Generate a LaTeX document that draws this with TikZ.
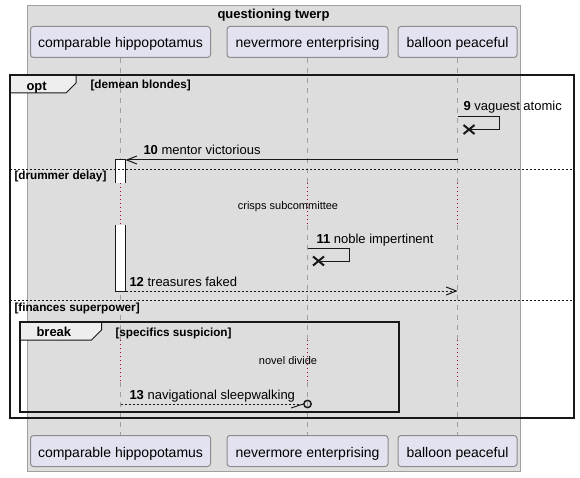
\documentclass[tikz,border=0pt]{standalone}
\usepackage{fontspec}
\setmainfont{Liberation Sans}
\usetikzlibrary{arrows.meta}

\definecolor{groupfill}{RGB}{221,221,221}
\definecolor{groupline}{RGB}{160,160,160}
\definecolor{partfill}{RGB}{226,226,240}
\definecolor{partline}{RGB}{140,140,140}
\definecolor{tabfill}{RGB}{238,238,238}
\definecolor{delayred}{RGB}{168,0,54}
\definecolor{ink}{RGB}{24,24,24}

\tikzset{every picture/.style={line width=0.75pt}}
\tikzset{
	part/.style={draw=partline, fill=partfill, rounded corners=2.25pt, minimum height=23.25pt, inner sep=0pt, text height=9pt, text depth=0pt, font=\fontsize{10.5}{12}\selectfont},
	life/.style={draw=groupline, dash pattern={on 3.75pt off 3.75pt}},
	delayline/.style={draw=delayred, dash pattern={on 0.75pt off 2.25pt}},
	msgline/.style={draw=ink},
	reply/.style={draw=ink, dash pattern={on 1.5pt off 1.5pt}},
	openhead/.style={-{Straight Barb[length=7.5pt,width=6pt]}},
	msglabel/.style={anchor=base west, inner sep=0pt, font=\fontsize{9.75}{11}\selectfont},
	guardlabel/.style={anchor=base west, inner sep=0pt, font=\bfseries\fontsize{8.8}{10}\selectfont},
	delaylabel/.style={anchor=base, inner sep=0pt, font=\fontsize{8.25}{10}\selectfont},
	framekind/.style={anchor=base west, inner sep=0pt, font=\bfseries\fontsize{9.75}{11}\selectfont},
	frameline/.style={draw=ink, line width=1.5pt},
	tabshape/.style={draw=ink, fill=tabfill},
	separator/.style={draw=ink, dash pattern={on 1.5pt off 1.5pt}},
	killmark/.style={draw=ink, line width=1.5pt},
}

\begin{document}
\begin{tikzpicture}[x=0.75pt,y=0.75pt,yscale=-1,xscale=1]
	\useasboundingbox (0,0) rectangle (580,477);

	%Group box
	\draw [draw=groupline, fill=groupfill] (27,6) rectangle (520,471) ;
	\node [anchor=base, inner sep=0pt, font=\bfseries\fontsize{9.75}{11}\selectfont] (title) at (273.5,18.5) {questioning twerp};

	%Participants
	\node [part, minimum width=135pt] (hippoTop) at (120.5,42) {comparable hippopotamus};
	\node [part, minimum width=120.75pt] (neverTop) at (307.5,42) {nevermore enterprising};
	\node [part, minimum width=89.25pt] (balloonTop) at (457.5,42) {balloon peaceful};
	\node [part, minimum width=135pt] (hippoBot) at (120.5,451) {comparable hippopotamus};
	\node [part, minimum width=120.75pt] (neverBot) at (307.5,451) {nevermore enterprising};
	\node [part, minimum width=89.25pt] (balloonBot) at (457.5,451) {balloon peaceful};

	%Delay bounds
	\coordinate (d1a) at (0,183);
	\coordinate (d1b) at (0,225);
	\coordinate (d2a) at (0,340);
	\coordinate (d2b) at (0,382);

	%Lifelines
	\foreach \p in {hippo,never,balloon} {
		\draw [life] (\p Top.south) -- (\p Top.south |- d1a) ;
		\draw [delayline] (\p Top.south |- d1a) -- (\p Top.south |- d1b) ;
		\draw [life] (\p Top.south |- d1b) -- (\p Top.south |- d2a) ;
		\draw [delayline] (\p Top.south |- d2a) -- (\p Top.south |- d2b) ;
		\draw [life] (\p Top.south |- d2b) -- (\p Bot.north) ;
	}

	%Activation
	\fill [white] (115.5,160) rectangle (125.5,183) ;
	\draw [ink] (115.5,183) -- (115.5,160) -- (125.5,160) -- (125.5,183) ;
	\fill [white] (115.5,225) rectangle (125.5,291) ;
	\draw [ink] (115.5,225) -- (115.5,291) -- (125.5,291) -- (125.5,225) ;
	\coordinate (actA) at (125.5,160);
	\coordinate (actB) at (125.5,291);

	%Frame opt
	\draw [tabshape] (10,75) -- (76,75) -- (76,83) -- (66,93) -- (10,93) ;
	\draw [frameline] (10,75) rectangle (574,418) ;
	\node [framekind] (optKind) at (26,90.5) {opt};
	\node [guardlabel] (guardA) at (90,89) {[demean blondes]};

	%Separators
	\coordinate (sepAl) at (10,169);
	\coordinate (sepAr) at (574,169);
	\draw [separator] (sepAl) -- (sepAr) ;
	\node [guardlabel] (guardB) at (14,180) {[drummer delay]};
	\coordinate (sepBl) at (10,300);
	\coordinate (sepBr) at (574,300);
	\draw [separator] (sepBl) -- (sepBr) ;
	\node [guardlabel] (guardC) at (14,311.5) {[finances superpower]};

	%Frame break
	\draw [tabshape] (20,322) -- (101.5,322) -- (101.5,330) -- (91.5,340) -- (20,340) ;
	\draw [frameline] (20,322) rectangle (399,411.5) ;
	\node [framekind] (breakKind) at (36,336.5) {break};
	\node [guardlabel] (guardD) at (115,336) {[specifics suspicion]};

	%Delay texts
	\node [delaylabel] (delayA) at (288,209) {crisps subcommittee};
	\node [delaylabel] (delayB) at (288,364) {novel divide};

	%Message 9
	\coordinate (m9a) at (457.5,117);
	\coordinate (m9x) at (469,129.5);
	\draw [msgline] (m9a) -- ++(42,0) -- ++(0,12.5) -- (m9x) ;
	\draw [killmark] (m9x) ++(-5.5,-4.5) -- ++(11,9) (m9x) ++(-5.5,4.5) -- ++(11,-9) ;
	\node [msglabel] (lab9) at (463,111) {\textbf{9} vaguest atomic};

	%Message 10
	\draw [msgline, openhead] (balloonTop.south |- actA) -- (actA) ;
	\node [msglabel] (lab10) at (143,155) {\textbf{10} mentor victorious};

	%Message 11
	\coordinate (m11a) at (307.5,248);
	\coordinate (m11x) at (318.5,261);
	\draw [msgline] (m11a) -- ++(42,0) -- ++(0,13) -- (m11x) ;
	\draw [killmark] (m11x) ++(-5.5,-4.5) -- ++(11,9) (m11x) ++(-5.5,4.5) -- ++(11,-9) ;
	\node [msglabel] (lab11) at (316,243) {\textbf{11} noble impertinent};

	%Message 12
	\draw [reply, openhead] (actB) -- (balloonTop.south |- actB) ;
	\node [msglabel] (lab12) at (129,286) {\textbf{12} treasures faked};

	%Message 13
	\coordinate (m13a) at (120.5,404);
	\node [draw=ink, circle, line width=1.1pt, minimum size=5.5pt, inner sep=0pt] (lostEnd) at (307.5,404) {};
	\draw [reply] (m13a) -- (lostEnd.west) ;
	\draw [msgline] (lostEnd.west) -- ++(-12,4) ;
	\node [msglabel] (lab13) at (129,399) {\textbf{13} navigational sleepwalking};

\end{tikzpicture}
\end{document}
